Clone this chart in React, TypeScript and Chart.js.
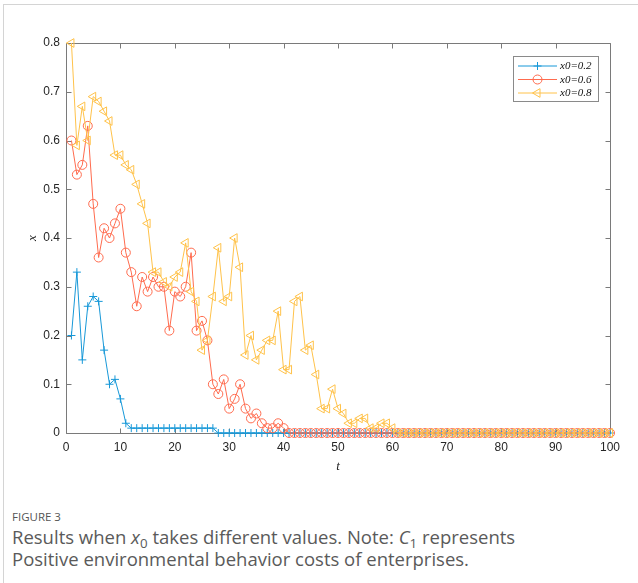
import React, { useEffect, useRef } from "react";
import { Chart, registerables } from "chart.js";
import { drawPoint } from "chart.js/helpers";

Chart.register(...registerables);

const T_STEPS = [
  1, 2, 3, 4, 5, 6, 7, 8, 9, 10,
  11, 12, 13, 14, 15, 16, 17, 18, 19, 20,
  21, 22, 23, 24, 25, 26, 27, 28, 29, 30,
  31, 32, 33, 34, 35, 36, 37, 38, 39, 40,
  41, 42, 43, 44, 45, 46, 47, 48, 49, 50,
  51, 52, 53, 54, 55, 56, 57, 58, 59, 60,
  61, 62, 63, 64, 65, 66, 67, 68, 69, 70,
  71, 72, 73, 74, 75, 76, 77, 78, 79, 80,
  81, 82, 83, 84, 85, 86, 87, 88, 89, 90,
  91, 92, 93, 94, 95, 96, 97, 98, 99, 100,
];

const X0_02 = [
  0.20, 0.33, 0.15, 0.26, 0.28, 0.27, 0.17, 0.10, 0.11, 0.07,
  0.02, 0.01, 0.01, 0.01, 0.01, 0.01, 0.01, 0.01, 0.01, 0.01,
  0.01, 0.01, 0.01, 0.01, 0.01, 0.01, 0.01, 0, 0, 0,
  0, 0, 0, 0, 0, 0, 0, 0, 0, 0,
  0, 0, 0, 0, 0, 0, 0, 0, 0, 0,
  0, 0, 0, 0, 0, 0, 0, 0, 0, 0,
  0, 0, 0, 0, 0, 0, 0, 0, 0, 0,
  0, 0, 0, 0, 0, 0, 0, 0, 0, 0,
  0, 0, 0, 0, 0, 0, 0, 0, 0, 0,
  0, 0, 0, 0, 0, 0, 0, 0, 0, 0,
];

const X0_06 = [
  0.60, 0.53, 0.55, 0.63, 0.47, 0.36, 0.42, 0.40, 0.43, 0.46,
  0.37, 0.33, 0.26, 0.32, 0.29, 0.32, 0.30, 0.30, 0.21, 0.29,
  0.28, 0.30, 0.37, 0.21, 0.23, 0.19, 0.10, 0.08, 0.11, 0.05,
  0.07, 0.10, 0.05, 0.03, 0.04, 0.02, 0.01, 0.01, 0.02, 0.01,
  0, 0, 0, 0, 0, 0, 0, 0, 0, 0,
  0, 0, 0, 0, 0, 0, 0, 0, 0, 0,
  0, 0, 0, 0, 0, 0, 0, 0, 0, 0,
  0, 0, 0, 0, 0, 0, 0, 0, 0, 0,
  0, 0, 0, 0, 0, 0, 0, 0, 0, 0,
  0, 0, 0, 0, 0, 0, 0, 0, 0, 0,
];

const X0_08 = [
  0.80, 0.59, 0.67, 0.60, 0.69, 0.68, 0.66, 0.64, 0.57, 0.57,
  0.55, 0.54, 0.51, 0.47, 0.43, 0.33, 0.33, 0.31, 0.30, 0.32,
  0.33, 0.39, 0.29, 0.27, 0.17, 0.19, 0.28, 0.38, 0.27, 0.28,
  0.40, 0.34, 0.16, 0.20, 0.15, 0.17, 0.19, 0.19, 0.25, 0.13,
  0.13, 0.27, 0.28, 0.17, 0.18, 0.12, 0.05, 0.05, 0.09, 0.05,
  0.04, 0.02, 0.02, 0.03, 0.03, 0.01, 0.01, 0.02, 0.02, 0.01,
  0, 0, 0, 0, 0, 0, 0, 0, 0, 0,
  0, 0, 0, 0, 0, 0, 0, 0, 0, 0,
  0, 0, 0, 0, 0, 0, 0, 0, 0, 0,
  0, 0, 0, 0, 0, 0, 0, 0, 0, 0,
];

const SERIES_LABELS = ["x0=0.2", "x0=0.6", "x0=0.8"];
const X_TICKS = [0, 10, 20, 30, 40, 50, 60, 70, 80, 90, 100];
const Y_TICKS = [0, 0.1, 0.2, 0.3, 0.4, 0.5, 0.6, 0.7, 0.8];

const BLUE = "#1798d8";
const RED = "#ff6b4e";
const YELLOW = "#ffc24a";
const AXIS = "#7a7a7a";

const STYLES = [
  { color: BLUE, pointStyle: "cross", radius: 4, rotation: 0 },
  { color: RED, pointStyle: "circle", radius: 4.5, rotation: 0 },
  { color: YELLOW, pointStyle: "triangle", radius: 5, rotation: -90 },
];

const SANS = "Arial, 'Liberation Sans', Helvetica, sans-serif";
const SERIF = "'Times New Roman', 'Liberation Serif', Times, serif";

const CANVAS_W = 638;
const CANVAS_H = 490;

const matlabPlugin = {
  id: "matlabBox",
  beforeDatasetsDraw(chart: any) {
    const { ctx, chartArea: a, scales } = chart;
    ctx.save();
    ctx.strokeStyle = AXIS;
    ctx.lineWidth = 1;
    const L = Math.round(a.left) + 0.5;
    const R = Math.round(a.right) + 0.5;
    const Tp = Math.round(a.top) + 0.5;
    const B = Math.round(a.bottom) + 0.5;
    ctx.beginPath();
    ctx.rect(L, Tp, R - L, B - Tp);
    scales.x.ticks.forEach((t: any) => {
      const px = Math.round(scales.x.getPixelForValue(t.value)) + 0.5;
      ctx.moveTo(px, B);
      ctx.lineTo(px, B - 5);
      ctx.moveTo(px, Tp);
      ctx.lineTo(px, Tp + 5);
    });
    scales.y.ticks.forEach((t: any) => {
      const py = Math.round(scales.y.getPixelForValue(t.value)) + 0.5;
      ctx.moveTo(L, py);
      ctx.lineTo(L + 5, py);
      ctx.moveTo(R, py);
      ctx.lineTo(R - 5, py);
    });
    ctx.stroke();
    ctx.restore();
  },
  afterDraw(chart: any) {
    const { ctx, chartArea: a } = chart;
    ctx.save();
    // axis titles
    ctx.fillStyle = "#222";
    ctx.font = "italic 13px " + SERIF;
    ctx.textAlign = "center";
    ctx.textBaseline = "middle";
    ctx.fillText("t", (a.left + a.right) / 2, 467);
    ctx.save();
    ctx.translate(33, (a.top + a.bottom) / 2);
    ctx.rotate(-Math.PI / 2);
    ctx.fillText("x", 0, 0);
    ctx.restore();

    // legend
    const bx = 513.5, by = 56.5, bw = 85, bh = 45;
    ctx.fillStyle = "#fff";
    ctx.fillRect(bx, by, bw, bh);
    ctx.strokeStyle = "#8a8a8a";
    ctx.lineWidth = 1;
    ctx.strokeRect(bx, by, bw, bh);
    const rows = [66, 79.5, 93];
    chart.data.datasets.forEach((ds: any, i: number) => {
      const y = rows[i];
      const st = STYLES[i];
      ctx.strokeStyle = st.color;
      ctx.lineWidth = 1;
      ctx.beginPath();
      ctx.moveTo(518, y);
      ctx.lineTo(557, y);
      ctx.stroke();
      ctx.fillStyle = "rgba(0,0,0,0)";
      ctx.strokeStyle = st.color;
      drawPoint(ctx, {
        pointStyle: st.pointStyle,
        radius: st.radius,
        rotation: st.rotation,
        borderWidth: 1,
      } as any, 537.5, y);
      ctx.fillStyle = "#111";
      ctx.font = "italic 11px " + SERIF;
      ctx.textAlign = "left";
      ctx.textBaseline = "middle";
      ctx.fillText(ds.label, 560, y + 0.5);
    });
    ctx.restore();
  },
};

export default function App() {
  const ref = useRef<HTMLCanvasElement | null>(null);

  useEffect(() => {
    if (!ref.current) return;
    const sets = [X0_02, X0_06, X0_08];
    const chart = new Chart(ref.current, {
      type: "line",
      data: {
        datasets: sets.map((vals, i) => ({
          label: SERIES_LABELS[i],
          data: vals.map((v, k) => ({ x: T_STEPS[k], y: v })),
          borderColor: STYLES[i].color,
          backgroundColor: "rgba(0,0,0,0)",
          borderWidth: 1,
          pointStyle: STYLES[i].pointStyle as any,
          pointRadius: STYLES[i].radius,
          pointRotation: STYLES[i].rotation,
          pointBorderColor: STYLES[i].color,
          pointBackgroundColor: "rgba(0,0,0,0)",
          pointBorderWidth: 1,
          tension: 0,
          fill: false,
          clip: false as any,
          order: 2 - i,
        })),
      },
      options: {
        responsive: false,
        animation: false,
        devicePixelRatio: 1,
        layout: { padding: { top: 43, right: 28, left: 0, bottom: 0 } },
        plugins: { legend: { display: false }, tooltip: { enabled: false } },
        scales: {
          x: {
            type: "linear",
            min: 0,
            max: 100,
            afterBuildTicks: (s: any) => {
              s.ticks = X_TICKS.map((v) => ({ value: v }));
            },
            afterFit: (s: any) => {
              s.height = CANVAS_H - 433;
            },
            grid: { display: false, drawTicks: false },
            border: { display: false },
            ticks: {
              padding: 7,
              color: "#262626",
              font: { family: SANS, size: 12 },
              maxRotation: 0,
              callback: (v: any) => String(v),
            },
          },
          y: {
            type: "linear",
            min: 0,
            max: 0.8,
            afterBuildTicks: (s: any) => {
              s.ticks = Y_TICKS.map((v) => ({ value: v }));
            },
            afterFit: (s: any) => {
              s.width = 66;
            },
            grid: { display: false, drawTicks: false },
            border: { display: false },
            ticks: {
              padding: 6,
              color: "#262626",
              font: { family: SANS, size: 12 },
              callback: (v: any) => String(Math.round(v * 10) / 10),
            },
          },
        },
      },
      plugins: [matlabPlugin],
    });
    return () => chart.destroy();
  }, []);

  const sub: React.CSSProperties = { fontSize: "0.72em", verticalAlign: "-0.28em", lineHeight: 0 };

  return (
    <div style={{ position: "absolute", left: 0, top: 0, width: 638, height: 583, background: "#fff", overflow: "hidden" }}>
      <div style={{ position: "absolute", left: 3, top: 4, width: 700, height: 700, borderLeft: "1px solid #d4d4d4", borderTop: "1px solid #d4d4d4" }} />
      <canvas ref={ref} width={CANVAS_W} height={CANVAS_H} style={{ position: "absolute", left: 0, top: 0, width: CANVAS_W, height: CANVAS_H }} />
      <div style={{ position: "absolute", left: 12, top: 509, fontFamily: "'Open Sans'", fontSize: 11.5, color: "#555" }}>FIGURE 3</div>
      <div style={{ position: "absolute", left: 12, top: 526, fontFamily: "'Open Sans'", fontSize: 18.5, lineHeight: "22px", color: "#5a5a5a", whiteSpace: "nowrap" }}>
        Results when <i>x</i><span style={sub}>0</span> takes different values. Note: <i>C</i><span style={sub}>1</span> represents
        <br />
        Positive environmental behavior costs of enterprises.
      </div>
    </div>
  );
}
